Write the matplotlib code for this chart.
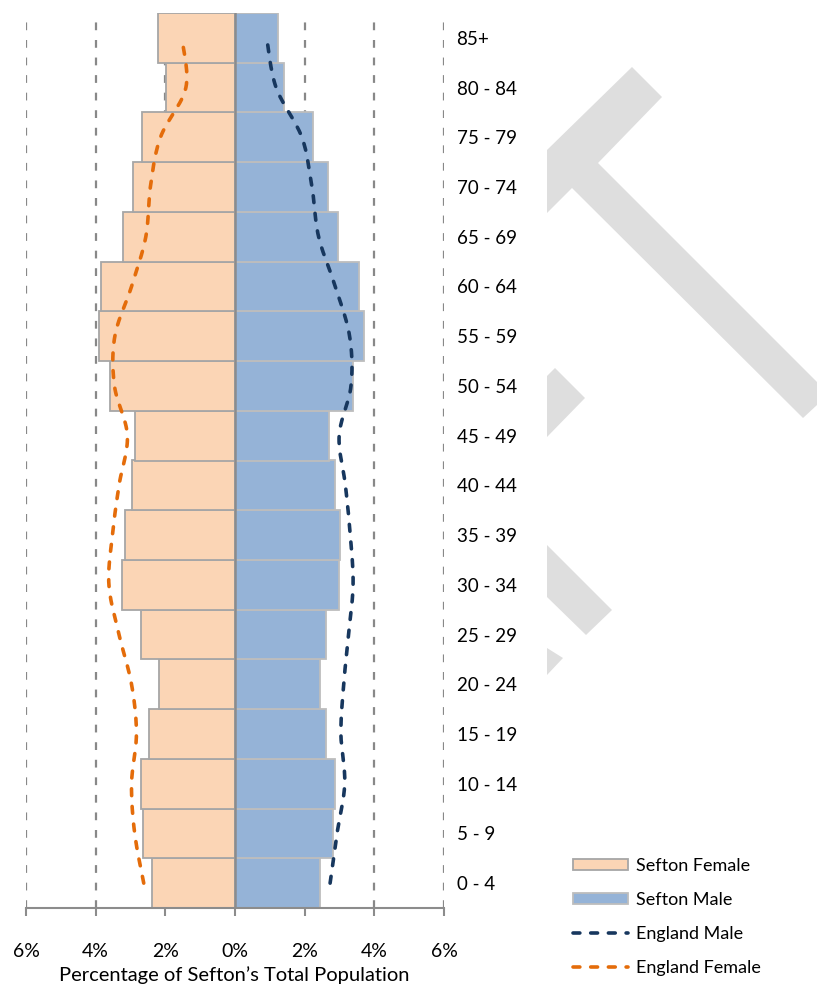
import numpy as np
import matplotlib
matplotlib.use("Agg")
from matplotlib import pyplot as plt
from matplotlib.patches import Polygon, Patch
from matplotlib.lines import Line2D

plt.rcParams['font.family'] = ['Lato', 'DejaVu Sans']

# age bands, bottom to top
ages = ['0 - 4', '5 - 9', '10 - 14', '15 - 19', '20 - 24', '25 - 29', '30 - 34',
        '35 - 39', '40 - 44', '45 - 49', '50 - 54', '55 - 59', '60 - 64',
        '65 - 69', '70 - 74', '75 - 79', '80 - 84', '85+']

# % of Sefton total population
sefton_female = [2.39, 2.64, 2.69, 2.47, 2.19, 2.71, 3.23, 3.17, 2.97, 2.86,
                 3.58, 3.91, 3.84, 3.21, 2.94, 2.66, 1.97, 2.22]
sefton_male = [2.45, 2.80, 2.86, 2.61, 2.45, 2.61, 2.99, 3.02, 2.86, 2.71,
               3.39, 3.69, 3.55, 2.97, 2.66, 2.25, 1.41, 1.23]

# England profile for comparison
england_female = [2.62, 2.88, 2.97, 2.83, 2.97, 3.33, 3.62, 3.52, 3.33, 3.09,
                  3.46, 3.45, 2.97, 2.56, 2.43, 2.14, 1.41, 1.53]
england_male = [2.73, 2.93, 3.15, 3.04, 3.12, 3.26, 3.39, 3.31, 3.17, 2.99,
                3.33, 3.29, 2.88, 2.40, 2.21, 1.92, 1.18, 0.91]

xticks = [-6, -4, -2, 0, 2, 4, 6]
xticklabels = ['6%', '4%', '2%', '0%', '2%', '4%', '6%']

# grey watermark shapes, pixel coords (x, y from top)
watermark = [
    [(547, 150), (632, 67), (662, 97), (598, 163), (817, 382), (817, 405),
     (803, 418), (572, 188), (547, 213)],
    [(547, 376), (555, 368), (585, 398), (547, 437)],
    [(547, 545), (612, 610), (586, 635), (547, 597)],
    [(547, 648), (563, 658), (547, 675)],
]

W, H = 817, 984


def smooth(xs, ys, n=16):
    # catmull-rom, like excel's smoothed line
    pts = np.column_stack([xs, ys]).astype(float)
    p = np.vstack([pts[0], pts, pts[-1]])
    out = []
    for i in range(1, len(p) - 2):
        p0, p1, p2, p3 = p[i - 1], p[i], p[i + 1], p[i + 2]
        for t in np.linspace(0, 1, n, endpoint=False):
            out.append(0.5 * (2 * p1 + (-p0 + p2) * t
                              + (2 * p0 - 5 * p1 + 4 * p2 - p3) * t ** 2
                              + (-p0 + 3 * p1 - 3 * p2 + p3) * t ** 3))
    out.append(pts[-1])
    return np.array(out)


fig = plt.figure(figsize=(W / 100, H / 100), dpi=100)

for poly in watermark:
    verts = [(x / W, 1 - y / H) for x, y in poly]
    fig.patches.append(Polygon(verts, closed=True, transform=fig.transFigure,
                               facecolor='#dedede', edgecolor='none', zorder=0))

ax = fig.add_axes([26 / W, 1 - 908 / H, 418 / W, 895 / H])
ax.patch.set_alpha(0)

y = np.arange(len(ages))
ax.barh(y, -np.array(sefton_female), height=1.0, color='#fbd5b5',
        edgecolor='#a6a6a6', linewidth=1.3, zorder=2, label='Sefton Female')
ax.barh(y, sefton_male, height=1.0, color='#95b3d7',
        edgecolor='#bdbdbd', linewidth=1.3, zorder=2, label='Sefton Male')
ax.axvline(0, color='#8c8c8c', lw=1.8, zorder=3)

dash = dict(lw=2.6, dashes=(1.9, 3.0), dash_capstyle='round', zorder=4)
m = smooth(england_male, y)
ax.plot(m[:, 0], m[:, 1], color='#17375e', **dash)
f = smooth(-np.array(england_female), y)
ax.plot(f[:, 0], f[:, 1], color='#e46c0a', **dash)

ax.set_xlim(-6, 6)
ax.set_ylim(-0.5, len(ages) - 0.5)
ax.set_xticks(xticks)
ax.set_xticklabels(xticklabels, fontsize=14)
ax.set_yticks(y)
ax.set_yticklabels(ages, fontsize=13.5)
ax.yaxis.tick_right()
ax.tick_params(axis='y', length=0, pad=9)
ax.tick_params(axis='x', length=6, width=1.5, color='#8c8c8c', pad=19)

for s in ['top', 'left', 'right']:
    ax.spines[s].set_visible(False)
ax.spines['bottom'].set_color('#8c8c8c')
ax.spines['bottom'].set_linewidth(1.5)

ax.set_axisbelow(True)
ax.xaxis.grid(True, color='#888888', lw=1.6, linestyle=(0, (3.5, 4.4)))

fig.text(234 / W, 1 - 966 / H, 'Percentage of Sefton\u2019s Total Population',
         ha='center', va='top', fontsize=14.5)

handles = [
    Patch(facecolor='#fbd5b5', edgecolor='#a6a6a6', lw=1.3),
    Patch(facecolor='#95b3d7', edgecolor='#bdbdbd', lw=1.3),
    Line2D([], [], color='#17375e', lw=2.6, dashes=(1.9, 3.0), dash_capstyle='round'),
    Line2D([], [], color='#e46c0a', lw=2.6, dashes=(1.9, 3.0), dash_capstyle='round'),
]
labels = ['Sefton Female', 'Sefton Male', 'England Male', 'England Female']
fig.legend(handles, labels, loc='upper left', bbox_to_anchor=(573 / W, 1 - 858 / H),
           frameon=False, fontsize=13, handlelength=3.05, handleheight=0.6,
           handletextpad=0.45, labelspacing=1.0, borderaxespad=0, borderpad=0)

fig.savefig('out.png', dpi=100)
